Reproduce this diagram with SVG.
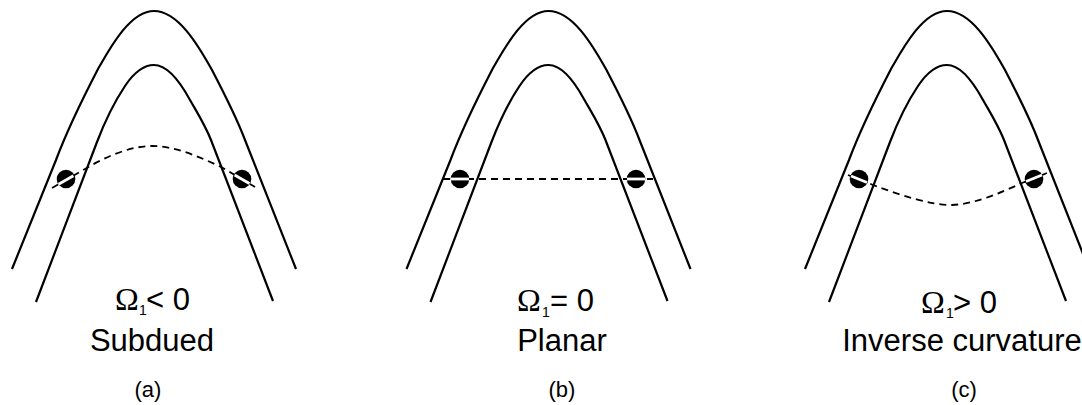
<svg xmlns="http://www.w3.org/2000/svg" width="1082" height="405" viewBox="0 0 1082 405">
<style>
.c{fill:none;stroke:#000;stroke-width:2.2}
.d{fill:none;stroke:#000;stroke-width:1.8;stroke-dasharray:7 5}
.g{stroke:#fff;stroke-width:2.8;fill:none}
text{font-family:"Liberation Sans",Arial,sans-serif;fill:#000}
.l{font-size:31px}
.o{font-family:"Liberation Serif","Times New Roman",serif;font-size:32px}
.s{font-size:14px}
.m{font-size:22px}
</style>
<defs>
<g id="arch">
<path class="c" d="M12 269 L56 160 C68 128 84 96 98 69 C110 48 130 11 154 11 C178 11 198 45 212 70 C224 93 236 116 245 140 L296 269"/>
<path class="c" d="M36 302 L97 142 C105 121 115 101 125 86 C133 74 143 65 154 65 C166 65 178 78 190 100 C198 114 205 125 211 140 L273 301"/>
</g>
</defs>
<g id="connectors">
<use href="#arch"/>
<use href="#arch" x="394.5"/>
<use href="#arch" x="793"/>
<path class="d" d="M52 188 L85 169 C105 157 130 146 152 146 C175 146 200 157 223 168 L255 187"/>
<path class="d" d="M443 179 L653 179"/>
<path class="d" d="M848 175 L873 185 C900 195 930 205 952 205 C975 204 1000 193 1022 183 L1047 173"/>
</g>
<g id="dot-a1"><circle cx="66" cy="179" r="9.3"/><path class="g" d="M58.6 184.2L73.4 175.8"/></g>
<g id="dot-a2"><circle cx="242" cy="179" r="9.3"/><path class="g" d="M234.6 175L249.4 183.5"/></g>
<g id="dot-b1"><circle cx="460" cy="179" r="9.3"/><path class="g" d="M451 179H469"/></g>
<g id="dot-b2"><circle cx="636" cy="179" r="9.3"/><path class="g" d="M627 179H645"/></g>
<g id="dot-c1"><circle cx="859" cy="179" r="9.3"/><path class="g" d="M851 176L867 182.5"/></g>
<g id="dot-c2"><circle cx="1034" cy="179" r="9.3"/><path class="g" d="M1026 181.5L1042 175"/></g>
<g id="label-a">
<text class="o" x="115" y="310">Ω</text><text class="s" x="139" y="315">1</text><text class="l" x="146" y="310">&lt; 0</text>
<text class="l" x="152" y="351" text-anchor="middle">Subdued</text>
<text class="m" x="148" y="397" text-anchor="middle">(a)</text>
</g>
<g id="label-b">
<text class="o" x="517" y="311">Ω</text><text class="s" x="542" y="317">1</text><text class="l" x="550" y="311">= 0</text>
<text class="l" x="562" y="351" text-anchor="middle">Planar</text>
<text class="m" x="562" y="397" text-anchor="middle">(b)</text>
</g>
<g id="label-c">
<text class="o" x="921" y="313">Ω</text><text class="s" x="946" y="318">1</text><text class="l" x="953" y="313">&gt; 0</text>
<text class="l" x="962" y="351" text-anchor="middle">Inverse curvature</text>
<text class="m" x="964" y="397" text-anchor="middle">(c)</text>
</g>
</svg>
